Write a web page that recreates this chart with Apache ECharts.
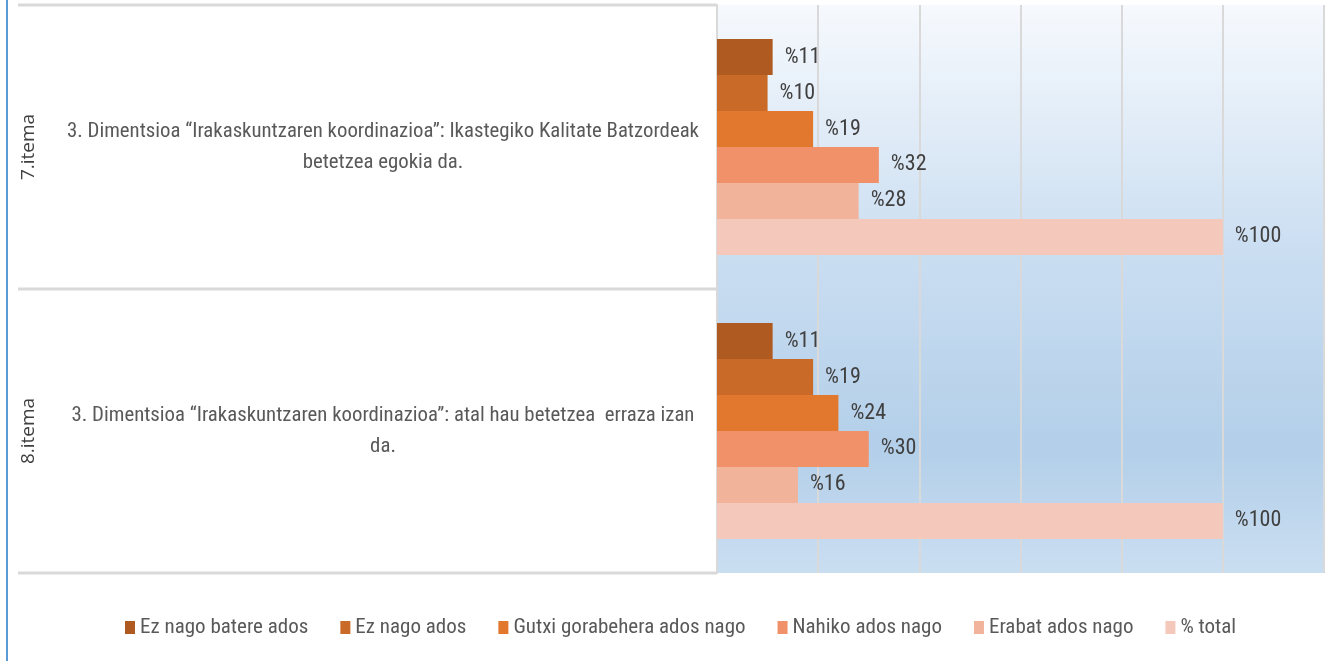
<!DOCTYPE html>
<html>
<head>
<meta charset="utf-8">
<script src="https://cdn.jsdelivr.net/npm/echarts@6/dist/echarts.min.js"></script>
<style>
html,body{margin:0;padding:0;background:#fff;}
#main{width:1330px;height:661px;}
</style>
</head>
<body>
<div id="main"></div>
<script>
const items = ['7.itema', '8.itema'];
const questions = [
  '3. Dimentsioa “Irakaskuntzaren koordinazioa”: Ikastegiko Kalitate Batzordeak\nbetetzea egokia da.',
  '3. Dimentsioa “Irakaskuntzaren koordinazioa”: atal hau betetzea  erraza izan\nda.'
];
const seriesNames = ['Ez nago batere ados', 'Ez nago ados', 'Gutxi gorabehera ados nago', 'Nahiko ados nago', 'Erabat ados nago', '% total'];
const ezBatere = [11, 11];
const ezAdos = [10, 19];
const gutxi = [19, 24];
const nahiko = [32, 30];
const erabat = [28, 16];
const total = [100, 100];
const seriesValues = [ezBatere, ezAdos, gutxi, nahiko, erabat, total];
const colors = ['#ae5a21', '#c96a28', '#e2782e', '#f0916a', '#f2b39b', '#f5c8bc'];

const FONT = '"Liberation Sans Narrow", "Roboto Condensed", "Open Sans", sans-serif';
const G = {left: 717, right: 6, top: 5, bottom: 88};

const chart = echarts.init(document.getElementById('main'));
const option = {
  animation: false,
  backgroundColor: '#fff',
  grid: {
    left: G.left, right: G.right, top: G.top, bottom: G.bottom,
    show: true,
    borderWidth: 0,
    backgroundColor: {
      type: 'linear', x: 0, y: 0, x2: 0, y2: 1,
      colorStops: [
        {offset: 0, color: '#f6f9fd'},
        {offset: 0.45, color: '#c9ddf1'},
        {offset: 0.78, color: '#b3cfe9'},
        {offset: 1, color: '#cadef1'}
      ]
    }
  },
  legend: {
    bottom: 18,
    left: 120,
    itemWidth: 10,
    itemHeight: 13,
    itemGap: 32,
    icon: 'rect',
    textStyle: {fontFamily: FONT, fontSize: 21, color: '#595959'},
    data: seriesNames
  },
  xAxis: {
    type: 'value',
    min: 0, max: 120, interval: 20,
    axisLabel: {show: false},
    axisLine: {show: false},
    axisTick: {show: false},
    splitLine: {show: true, lineStyle: {color: '#d9d9d9', width: 2}}
  },
  yAxis: [
    {
      type: 'category',
      data: questions,
      inverse: true,
      axisLine: {show: true, lineStyle: {color: '#d9d9d9', width: 2}},
      axisTick: {show: false},
      splitLine: {show: false},
      axisLabel: {
        margin: 334,
        align: 'center',
        lineHeight: 31,
        fontFamily: FONT,
        fontSize: 20.8,
        color: '#595959'
      }
    },
    {
      type: 'category',
      data: items,
      inverse: true,
      position: 'left',
      axisLine: {show: false},
      axisTick: {show: false},
      axisLabel: {
        rotate: 90,
        margin: 679,
        fontFamily: '"Open Sans", sans-serif',
        fontSize: 19,
        color: '#404040'
      }
    }
  ],
  series: seriesNames.map((name, i) => ({
    name: name,
    type: 'bar',
    yAxisIndex: 0,
    data: seriesValues[i],
    barGap: '0%',
    barCategoryGap: '24%',
    itemStyle: {color: colors[i]},
    label: {
      show: true,
      position: 'right',
      distance: 12,
      formatter: p => '%' + p.value,
      fontFamily: FONT,
      fontSize: 22,
      color: '#404040'
    }
  }))
};
chart.setOption(option);

// table borders for the left label area
const H = 661;
const plotBottom = H - G.bottom;
const mid = (G.top + plotBottom) / 2;
const lineStyle = {stroke: '#d9d9d9', lineWidth: 3};
chart.setOption({
  graphic: [
    {type: 'line', shape: {x1: 7, y1: 0, x2: 7, y2: H}, style: {stroke: '#5b9bd5', lineWidth: 2}},
    {type: 'line', shape: {x1: 18, y1: G.top, x2: G.left, y2: G.top}, style: lineStyle},
    {type: 'line', shape: {x1: 18, y1: mid, x2: G.left, y2: mid}, style: lineStyle},
    {type: 'line', shape: {x1: 18, y1: plotBottom, x2: G.left, y2: plotBottom}, style: lineStyle}
  ]
});
</script>
</body>
</html>
